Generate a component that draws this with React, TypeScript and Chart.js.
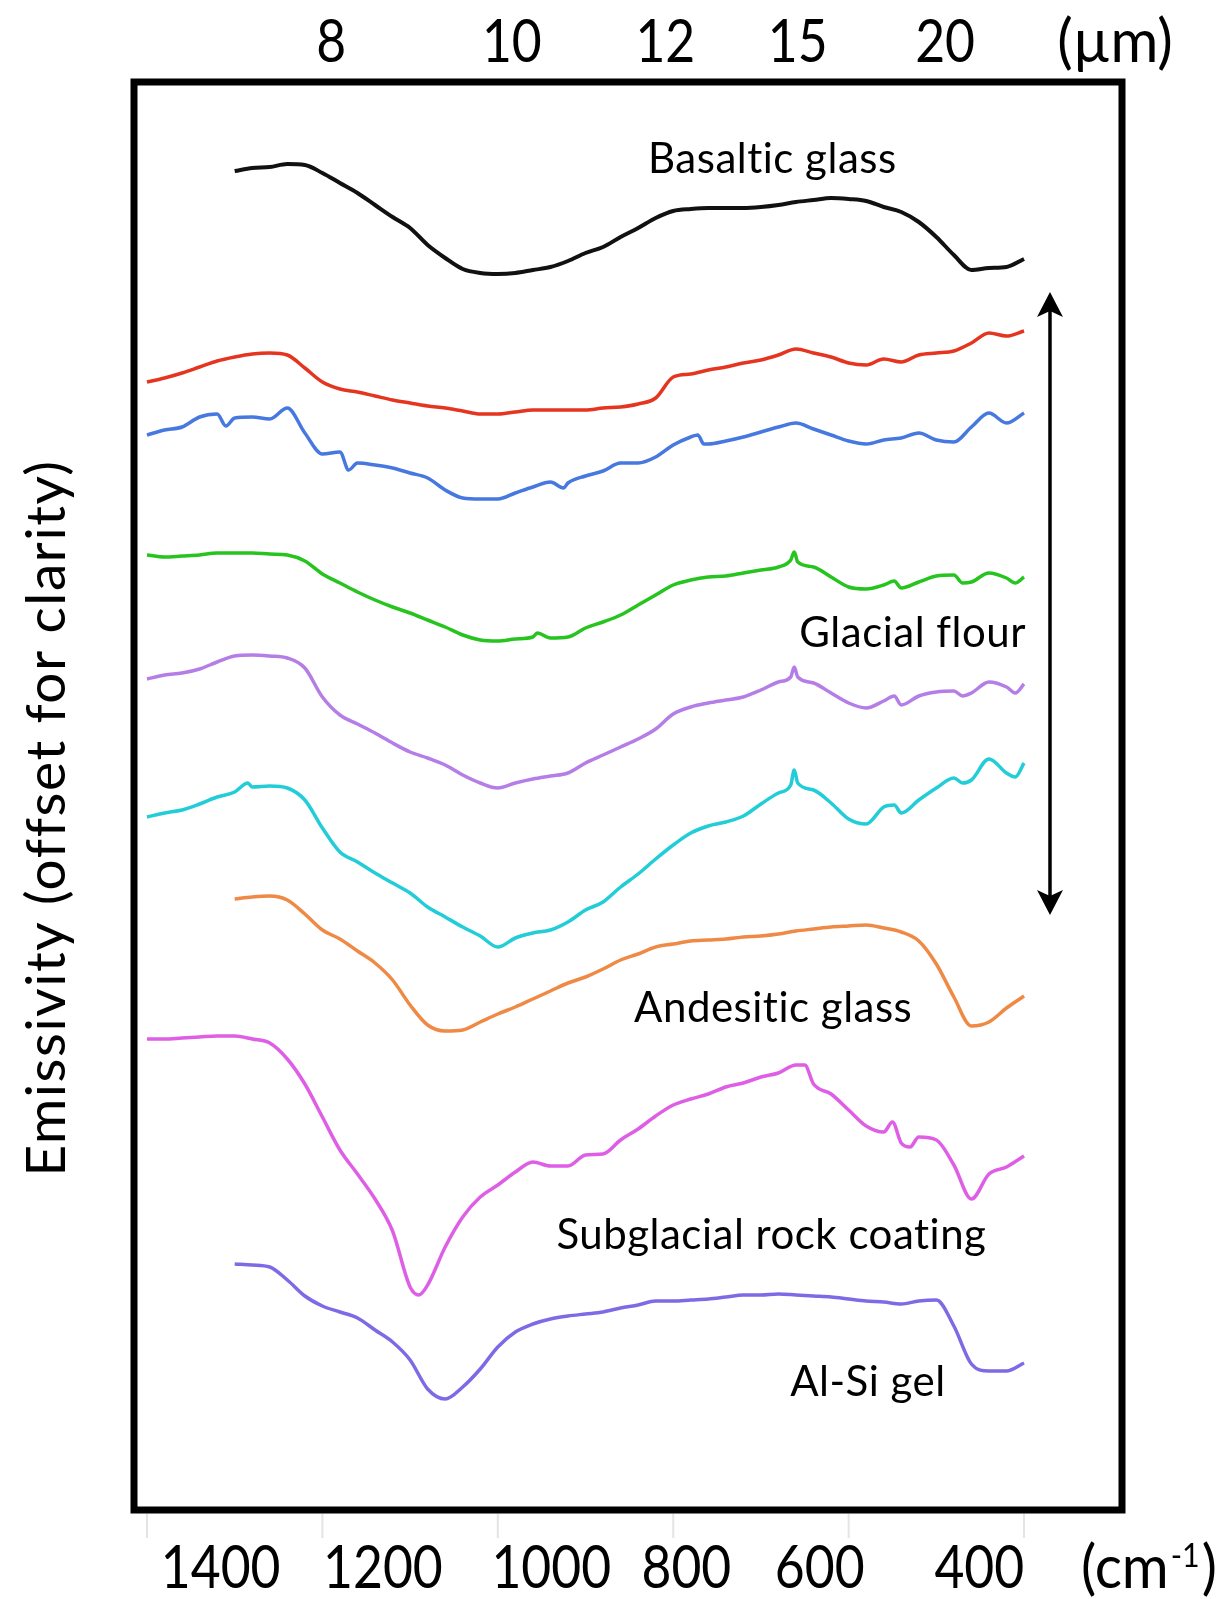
import React, { useEffect, useRef } from "react";
import { Chart, registerables } from "chart.js";

Chart.register(...registerables);

type Pair = [number, number];

// ---- axes (wavenumber, cm^-1) ----
const WAVENUMBER_TICKS = [1400, 1200, 1000, 800, 600, 400];
const WAVENUMBER_LABELS = ["1400", "1200", "1000", "800", "600", "400"];
// where the original figure placed its bottom labels (in cm^-1)
const WAVENUMBER_LABEL_AT = [1316, 1131, 939, 785, 633, 451];
const MICRON_LABELS = ["8", "10", "12", "15", "20"];
// where the original figure placed its top labels (in cm^-1)
const MICRON_LABEL_AT = [1190, 984, 809, 658, 490];

const X_MIN = 288.3;
const X_MAX = 1414.8;
const Y_MIN = 0;
const Y_MAX = 1.428;

// ---- spectra: [wavenumber cm^-1, emissivity (offset)] ----
const BASALTIC_GLASS: Pair[] = [
  [1300, 1.339], [1280, 1.342], [1260, 1.343], [1240, 1.346], [1220, 1.345], [1200, 1.337],
  [1180, 1.327], [1160, 1.317], [1140, 1.305], [1120, 1.293], [1100, 1.282], [1080, 1.265],
  [1060, 1.252], [1040, 1.241], [1020, 1.237], [1000, 1.236], [980, 1.237], [960, 1.240],
  [940, 1.243], [920, 1.249], [900, 1.257], [880, 1.263], [860, 1.273], [840, 1.282],
  [820, 1.292], [800, 1.299], [780, 1.301], [760, 1.302], [740, 1.302], [720, 1.302],
  [700, 1.303], [680, 1.305], [660, 1.308], [640, 1.310], [620, 1.312], [600, 1.311],
  [580, 1.309], [560, 1.303], [540, 1.298], [520, 1.288], [500, 1.273], [480, 1.255],
  [460, 1.240], [440, 1.242], [420, 1.243], [400, 1.251],
];

const FLOUR_RED: Pair[] = [
  [1400, 1.128], [1380, 1.132], [1360, 1.137], [1340, 1.143], [1320, 1.149], [1300, 1.153],
  [1280, 1.156], [1260, 1.157], [1240, 1.155], [1220, 1.142], [1200, 1.128], [1180, 1.121],
  [1160, 1.118], [1140, 1.114], [1120, 1.110], [1100, 1.107], [1080, 1.104], [1060, 1.102],
  [1040, 1.099], [1020, 1.096], [1000, 1.096], [980, 1.098], [960, 1.100], [940, 1.100],
  [920, 1.100], [900, 1.100], [880, 1.102], [860, 1.103], [840, 1.106], [820, 1.112],
  [800, 1.133], [780, 1.136], [760, 1.140], [740, 1.143], [720, 1.147], [700, 1.150],
  [680, 1.155], [660, 1.161], [640, 1.157], [620, 1.153], [600, 1.147], [580, 1.145],
  [560, 1.151], [540, 1.148], [520, 1.155], [500, 1.157], [480, 1.159], [460, 1.167],
  [440, 1.177], [420, 1.174], [400, 1.179],
];

const FLOUR_BLUE: Pair[] = [
  [1400, 1.075], [1380, 1.080], [1360, 1.083], [1340, 1.093], [1320, 1.096], [1310, 1.084],
  [1300, 1.092], [1280, 1.093], [1260, 1.091], [1240, 1.102], [1220, 1.077], [1200, 1.056],
  [1180, 1.058], [1170, 1.040], [1160, 1.047], [1140, 1.045], [1120, 1.042], [1100, 1.037],
  [1080, 1.032], [1060, 1.020], [1040, 1.012], [1020, 1.011], [1000, 1.011], [980, 1.017],
  [960, 1.023], [940, 1.028], [925, 1.022], [920, 1.027], [900, 1.034], [880, 1.039],
  [860, 1.047], [840, 1.047], [820, 1.053], [800, 1.065], [780, 1.073], [772, 1.075],
  [765, 1.066], [760, 1.066], [740, 1.069], [720, 1.073], [700, 1.078], [680, 1.083],
  [660, 1.087], [640, 1.081], [620, 1.075], [600, 1.069], [580, 1.066], [560, 1.070],
  [540, 1.072], [520, 1.077], [500, 1.070], [480, 1.068], [460, 1.083], [440, 1.097],
  [420, 1.087], [400, 1.097],
];

const FLOUR_GREEN: Pair[] = [
  [1400, 0.955], [1380, 0.953], [1360, 0.954], [1340, 0.955], [1320, 0.957], [1300, 0.957],
  [1280, 0.957], [1260, 0.956], [1240, 0.955], [1220, 0.949], [1200, 0.936], [1180, 0.927],
  [1160, 0.918], [1140, 0.910], [1120, 0.903], [1100, 0.897], [1080, 0.890], [1060, 0.883],
  [1040, 0.875], [1020, 0.870], [1000, 0.869], [980, 0.871], [960, 0.873], [955, 0.877],
  [940, 0.872], [920, 0.873], [900, 0.882], [880, 0.888], [860, 0.895], [840, 0.905],
  [820, 0.915], [800, 0.925], [780, 0.930], [760, 0.933], [740, 0.934], [720, 0.937],
  [700, 0.940], [680, 0.943], [666, 0.950], [662, 0.958], [658, 0.948], [640, 0.943],
  [620, 0.933], [600, 0.923], [580, 0.921], [560, 0.925], [548, 0.929], [540, 0.922],
  [520, 0.928], [500, 0.934], [480, 0.935], [470, 0.927], [460, 0.928], [440, 0.937],
  [420, 0.932], [410, 0.927], [400, 0.933],
];

const FLOUR_LILAC: Pair[] = [
  [1400, 0.831], [1380, 0.835], [1360, 0.837], [1340, 0.841], [1320, 0.848], [1300, 0.854],
  [1280, 0.855], [1260, 0.854], [1240, 0.852], [1220, 0.842], [1200, 0.813], [1180, 0.795],
  [1160, 0.786], [1140, 0.777], [1120, 0.767], [1100, 0.758], [1080, 0.752], [1060, 0.745],
  [1040, 0.735], [1020, 0.727], [1000, 0.722], [980, 0.727], [960, 0.731], [940, 0.734],
  [920, 0.737], [900, 0.747], [880, 0.755], [860, 0.763], [840, 0.771], [820, 0.781],
  [800, 0.796], [780, 0.803], [760, 0.807], [740, 0.810], [720, 0.813], [700, 0.820],
  [680, 0.828], [666, 0.833], [662, 0.843], [658, 0.833], [640, 0.827], [620, 0.817],
  [600, 0.807], [580, 0.802], [560, 0.809], [548, 0.814], [540, 0.805], [520, 0.814],
  [500, 0.818], [480, 0.819], [470, 0.814], [460, 0.817], [440, 0.828], [420, 0.823],
  [410, 0.817], [400, 0.826],
];

const FLOUR_CYAN: Pair[] = [
  [1400, 0.693], [1380, 0.697], [1360, 0.700], [1340, 0.706], [1320, 0.713], [1300, 0.718],
  [1285, 0.727], [1280, 0.723], [1260, 0.724], [1240, 0.722], [1220, 0.710], [1200, 0.682],
  [1180, 0.658], [1160, 0.648], [1140, 0.637], [1120, 0.627], [1100, 0.617], [1080, 0.603],
  [1060, 0.593], [1040, 0.583], [1020, 0.574], [1000, 0.563], [980, 0.572], [960, 0.577],
  [940, 0.580], [920, 0.588], [900, 0.600], [880, 0.608], [860, 0.623], [840, 0.636],
  [820, 0.651], [800, 0.665], [780, 0.677], [760, 0.684], [740, 0.688], [720, 0.694],
  [700, 0.706], [680, 0.717], [666, 0.725], [662, 0.740], [658, 0.727], [640, 0.720],
  [620, 0.707], [600, 0.691], [580, 0.686], [560, 0.703], [548, 0.705], [540, 0.697],
  [520, 0.710], [500, 0.722], [480, 0.732], [470, 0.727], [460, 0.730], [440, 0.751],
  [420, 0.737], [410, 0.733], [400, 0.747],
];

const ANDESITIC_GLASS: Pair[] = [
  [1300, 0.611], [1280, 0.613], [1260, 0.614], [1240, 0.610], [1220, 0.596], [1200, 0.580],
  [1180, 0.571], [1160, 0.559], [1140, 0.547], [1120, 0.530], [1100, 0.505], [1080, 0.485],
  [1060, 0.479], [1040, 0.480], [1020, 0.488], [1000, 0.496], [980, 0.503], [960, 0.511],
  [940, 0.519], [920, 0.527], [900, 0.533], [880, 0.541], [860, 0.550], [840, 0.556],
  [820, 0.563], [800, 0.566], [780, 0.569], [760, 0.570], [740, 0.571], [720, 0.573],
  [700, 0.574], [680, 0.576], [660, 0.579], [640, 0.581], [620, 0.583], [600, 0.584],
  [580, 0.585], [560, 0.582], [540, 0.578], [520, 0.569], [500, 0.546], [480, 0.513],
  [460, 0.484], [440, 0.488], [420, 0.502], [400, 0.514],
];

const SUBGLACIAL_COATING: Pair[] = [
  [1400, 0.471], [1380, 0.471], [1360, 0.472], [1340, 0.473], [1320, 0.474], [1300, 0.474],
  [1280, 0.471], [1260, 0.467], [1240, 0.451], [1220, 0.426], [1200, 0.393], [1180, 0.360],
  [1160, 0.336], [1140, 0.311], [1120, 0.279], [1100, 0.223], [1090, 0.215], [1080, 0.225],
  [1060, 0.263], [1040, 0.293], [1020, 0.313], [1000, 0.325], [980, 0.338], [960, 0.348],
  [940, 0.344], [920, 0.344], [900, 0.355], [880, 0.356], [860, 0.370], [840, 0.381],
  [820, 0.394], [800, 0.405], [780, 0.411], [760, 0.416], [740, 0.423], [720, 0.427],
  [700, 0.433], [680, 0.437], [660, 0.445], [650, 0.445], [640, 0.426], [620, 0.416],
  [600, 0.400], [580, 0.384], [560, 0.378], [550, 0.388], [540, 0.367], [530, 0.363],
  [520, 0.373], [500, 0.370], [480, 0.345], [460, 0.311], [440, 0.336], [420, 0.343],
  [400, 0.354],
];

const AL_SI_GEL: Pair[] = [
  [1300, 0.246], [1280, 0.245], [1260, 0.243], [1240, 0.230], [1220, 0.214], [1200, 0.204],
  [1180, 0.198], [1160, 0.192], [1140, 0.180], [1120, 0.168], [1100, 0.150], [1080, 0.121],
  [1060, 0.111], [1040, 0.123], [1020, 0.141], [1000, 0.163], [980, 0.178], [960, 0.186],
  [940, 0.191], [920, 0.194], [900, 0.196], [880, 0.198], [860, 0.202], [840, 0.205],
  [820, 0.209], [800, 0.209], [780, 0.210], [760, 0.211], [740, 0.213], [720, 0.215],
  [700, 0.215], [680, 0.216], [660, 0.215], [640, 0.214], [620, 0.213], [600, 0.211],
  [580, 0.209], [560, 0.208], [540, 0.206], [520, 0.209], [500, 0.210], [480, 0.184],
  [460, 0.146], [440, 0.139], [420, 0.139], [400, 0.147],
];

const SERIES_NAMES = [
  "Basaltic glass", "Glacial flour (1)", "Glacial flour (2)", "Glacial flour (3)",
  "Glacial flour (4)", "Glacial flour (5)", "Andesitic glass", "Subglacial rock coating", "Al-Si gel",
];
const SERIES_DATA = [
  BASALTIC_GLASS, FLOUR_RED, FLOUR_BLUE, FLOUR_GREEN, FLOUR_LILAC, FLOUR_CYAN,
  ANDESITIC_GLASS, SUBGLACIAL_COATING, AL_SI_GEL,
];
const SERIES_COLORS = [
  "#111111", "#e5341f", "#4678e0", "#27c420", "#b47ee6", "#22cdd8",
  "#ee8a45", "#de5fe5", "#7f6ae6",
];

// curve labels: [text, wavenumber, emissivity]
const CURVE_LABELS: [string, number, number][] = [
  ["Basaltic glass", 687, 1.337],
  ["Glacial flour", 527, 0.863],
  ["Andesitic glass", 686, 0.488],
  ["Subglacial rock coating", 688, 0.261],
  ["Al-Si gel", 578, 0.114],
];

// double arrow spanning the glacial-flour group: [wavenumber, top, bottom]
const FLOUR_ARROW: [number, number, number] = [370.4, 1.218, 0.595];

const FONT = "Lato, 'Open Sans', 'DejaVu Sans', sans-serif";

function drawText(
  ctx: CanvasRenderingContext2D,
  text: string,
  x: number,
  y: number,
  size: number,
  align: CanvasTextAlign = "center",
  squeeze = 1,
  spacing = "0px"
) {
  ctx.save();
  ctx.translate(x, y);
  ctx.scale(squeeze, 1);
  ctx.font = `${size}px ${FONT}`;
  (ctx as any).letterSpacing = spacing;
  ctx.textAlign = align;
  ctx.textBaseline = "alphabetic";
  ctx.fillStyle = "#000";
  ctx.fillText(text, 0, 0);
  ctx.restore();
}

const decorPlugin = {
  id: "decor",
  afterDraw(chart: any) {
    const { ctx, chartArea: ca, scales } = chart;
    const xs = scales.x;
    const ys = scales.y;
    ctx.save();

    // faint tick marks under the frame
    ctx.strokeStyle = "#e4e4e4";
    ctx.lineWidth = 2;
    WAVENUMBER_TICKS.forEach((v) => {
      const px = xs.getPixelForValue(v);
      ctx.beginPath();
      ctx.moveTo(px, ca.bottom + 4);
      ctx.lineTo(px, ca.bottom + 28);
      ctx.stroke();
    });

    // frame
    ctx.strokeStyle = "#000";
    ctx.lineWidth = 7;
    ctx.strokeRect(ca.left, ca.top, ca.right - ca.left, ca.bottom - ca.top);

    // bottom tick labels
    WAVENUMBER_LABELS.forEach((t, i) => {
      drawText(ctx, t, xs.getPixelForValue(WAVENUMBER_LABEL_AT[i]), ca.bottom + 78, 60, "center", 0.86);
    });
    // (cm-1)
    {
      const sq = 0.95;
      ctx.font = `60px ${FONT}`;
      const w1 = ctx.measureText("(cm").width * sq;
      const w3 = ctx.measureText(")").width * sq;
      ctx.font = `32px ${FONT}`;
      const w2 = ctx.measureText("-1").width * sq;
      const total = w1 + w2 + w3 + 4;
      let x0 = ca.right + 27 - total / 2;
      drawText(ctx, "(cm", x0, ca.bottom + 78, 60, "left", sq);
      x0 += w1 + 2;
      drawText(ctx, "-1", x0, ca.bottom + 57, 32, "left", sq);
      x0 += w2 + 2;
      drawText(ctx, ")", x0, ca.bottom + 78, 60, "left", sq);
    }

    // top tick labels (wavelength, micrometres)
    MICRON_LABELS.forEach((t, i) => {
      drawText(ctx, t, xs.getPixelForValue(MICRON_LABEL_AT[i]), ca.top - 20, 60, "center", 0.86);
    });
    drawText(ctx, "(\u00b5m)", ca.right - 7, ca.top - 20, 60, "center", 0.97);

    // y axis title
    ctx.save();
    ctx.translate(ca.left - 69, 818);
    ctx.rotate(-Math.PI / 2);
    drawText(ctx, "Emissivity (offset for clarity)", 0, 0, 55, "center", 1, "1.6px");
    ctx.restore();

    // curve labels
    CURVE_LABELS.forEach(([t, wn, e]) => {
      drawText(ctx, t, xs.getPixelForValue(wn), ys.getPixelForValue(e), 42, "center", 1, "0.5px");
    });

    // double arrow
    const ax = xs.getPixelForValue(FLOUR_ARROW[0]);
    const at = ys.getPixelForValue(FLOUR_ARROW[1]);
    const ab = ys.getPixelForValue(FLOUR_ARROW[2]);
    ctx.strokeStyle = "#000";
    ctx.fillStyle = "#000";
    ctx.lineWidth = 3.5;
    ctx.beginPath();
    ctx.moveTo(ax, at + 18);
    ctx.lineTo(ax, ab - 18);
    ctx.stroke();
    const head = (tipY: number, dir: number) => {
      ctx.beginPath();
      ctx.moveTo(ax, tipY);
      ctx.lineTo(ax - 13, tipY + dir * 25);
      ctx.lineTo(ax, tipY + dir * 19);
      ctx.lineTo(ax + 13, tipY + dir * 25);
      ctx.closePath();
      ctx.fill();
    };
    head(at, 1);
    head(ab, -1);

    ctx.restore();
  },
};

export default function App() {
  const ref = useRef<HTMLCanvasElement | null>(null);

  useEffect(() => {
    if (!ref.current) return;
    const chart = new Chart(ref.current, {
      type: "line",
      data: {
        datasets: SERIES_DATA.map((pairs, i) => ({
          label: SERIES_NAMES[i],
          data: pairs.map(([x, y]) => ({ x, y })),
          borderColor: SERIES_COLORS[i],
          backgroundColor: SERIES_COLORS[i],
          borderWidth: i === 0 ? 4 : 3.5,
          pointRadius: 0,
          cubicInterpolationMode: "monotone" as const,
          fill: false,
        })),
      },
      options: {
        responsive: false,
        animation: false,
        devicePixelRatio: 1,
        layout: { padding: { left: 134, right: 108, top: 82, bottom: 89 } },
        plugins: {
          legend: { display: false },
          tooltip: { enabled: false },
        },
        scales: {
          x: { type: "linear", reverse: true, min: X_MIN, max: X_MAX, display: false },
          y: { type: "linear", min: Y_MIN, max: Y_MAX, display: false },
        },
      },
      plugins: [decorPlugin],
    });
    return () => chart.destroy();
  }, []);

  return (
    <div style={{ position: "fixed", left: 0, top: 0, width: 1230, height: 1599, background: "#fff" }}>
      <canvas ref={ref} width={1230} height={1599} style={{ display: "block" }} />
    </div>
  );
}
